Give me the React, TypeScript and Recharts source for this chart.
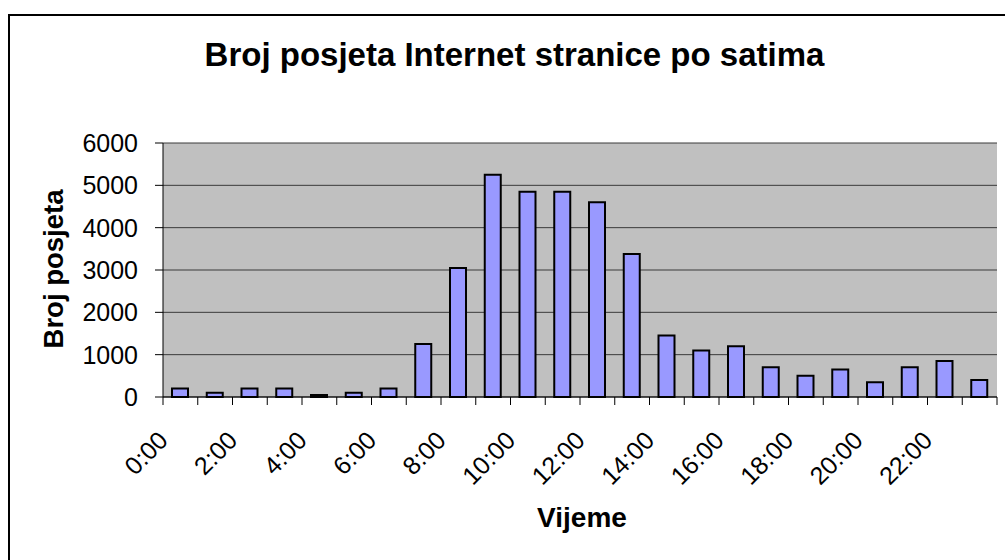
import { Bar, BarChart, CartesianGrid, XAxis, YAxis } from 'recharts'

const hours = [
  '0:00', '1:00', '2:00', '3:00', '4:00', '5:00', '6:00', '7:00',
  '8:00', '9:00', '10:00', '11:00', '12:00', '13:00', '14:00', '15:00',
  '16:00', '17:00', '18:00', '19:00', '20:00', '21:00', '22:00', '23:00',
]
const visits = [
  200, 100, 200, 200, 50, 100, 200, 1250,
  3050, 5250, 4850, 4850, 4600, 3380, 1450, 1100,
  1200, 700, 500, 650, 350, 700, 850, 400,
]
const yTicks = [0, 1000, 2000, 3000, 4000, 5000, 6000]

const data = hours.map((hour, i) => ({ hour, visits: visits[i] }))

const FONT = '"Liberation Sans", Arial, sans-serif'
const W = 1005
const H = 560
const PLOT_LEFT = 163
const PLOT_RIGHT = 997
const BAND = (PLOT_RIGHT - PLOT_LEFT) / hours.length

function HourTick(props: any) {
  const { x, y, payload, index } = props
  const left = x - BAND / 2
  const ax = x - 11
  const ay = y + 45
  return (
    <g>
      <line x1={left} y1={y} x2={left} y2={y + 8} stroke="#000" />
      {index === hours.length - 1 && (
        <line x1={x + BAND / 2} y1={y} x2={x + BAND / 2} y2={y + 8} stroke="#000" />
      )}
      {index % 2 === 0 && (
        <text x={ax} y={ay} textAnchor="end" fontSize={25} fontFamily={FONT} fill="#000"
          transform={`rotate(-45 ${ax} ${ay})`}>
          {payload.value}
        </text>
      )}
    </g>
  )
}

export default function App() {
  return (
    <div style={{ position: 'absolute', left: 0, top: 0, width: W, height: H, overflow: 'hidden', background: '#fff' }}>
      <div style={{ position: 'absolute', left: 8, top: 14, width: 1100, height: 700, border: '2px solid #000' }} />
      <div style={{ position: 'absolute', left: 0, top: 0 }}>
        <BarChart width={W} height={H} data={data} margin={{ top: 143, right: W - PLOT_RIGHT, left: 0, bottom: 0 }}>
          <CartesianGrid vertical={false} fill="#C0C0C0" stroke="#3a3a3a" />
          <XAxis dataKey="hour" interval={0} height={H - 397} tickSize={0} tickMargin={0}
            tickLine={false} axisLine={{ stroke: '#000' }} tick={<HourTick />} />
          <XAxis xAxisId="top" orientation="top" dataKey="hour" height={0} tick={false}
            tickLine={false} axisLine={{ stroke: '#8a8a8a' }} />
          <YAxis domain={[0, 6000]} ticks={yTicks} width={PLOT_LEFT} tickSize={8} tickMargin={17}
            axisLine={{ stroke: '#000' }} tickLine={{ stroke: '#000' }}
            tick={{ fontSize: 25, fill: '#000', fontFamily: FONT }} />
          <YAxis yAxisId="right" orientation="right" width={0} tick={false} tickLine={false}
            axisLine={{ stroke: '#8a8a8a' }} />
          <Bar dataKey="visits" fill="#9999FF" stroke="#000" strokeWidth={2} barSize={16}
            isAnimationActive={false} />
        </BarChart>
      </div>
      <svg width={W} height={H} style={{ position: 'absolute', left: 0, top: 0, pointerEvents: 'none' }}>
        <text x={514.5} y={66} textAnchor="middle" fontSize={33} fontWeight="bold" fontFamily={FONT}>
          Broj posjeta Internet stranice po satima
        </text>
        <text x={582} y={527} textAnchor="middle" fontSize={28} fontWeight="bold" fontFamily={FONT}>
          Vijeme
        </text>
        <text x={63} y={269} textAnchor="middle" fontSize={27.5} fontWeight="bold" fontFamily={FONT}
          transform="rotate(-90 63 269)">
          Broj posjeta
        </text>
      </svg>
    </div>
  )
}
